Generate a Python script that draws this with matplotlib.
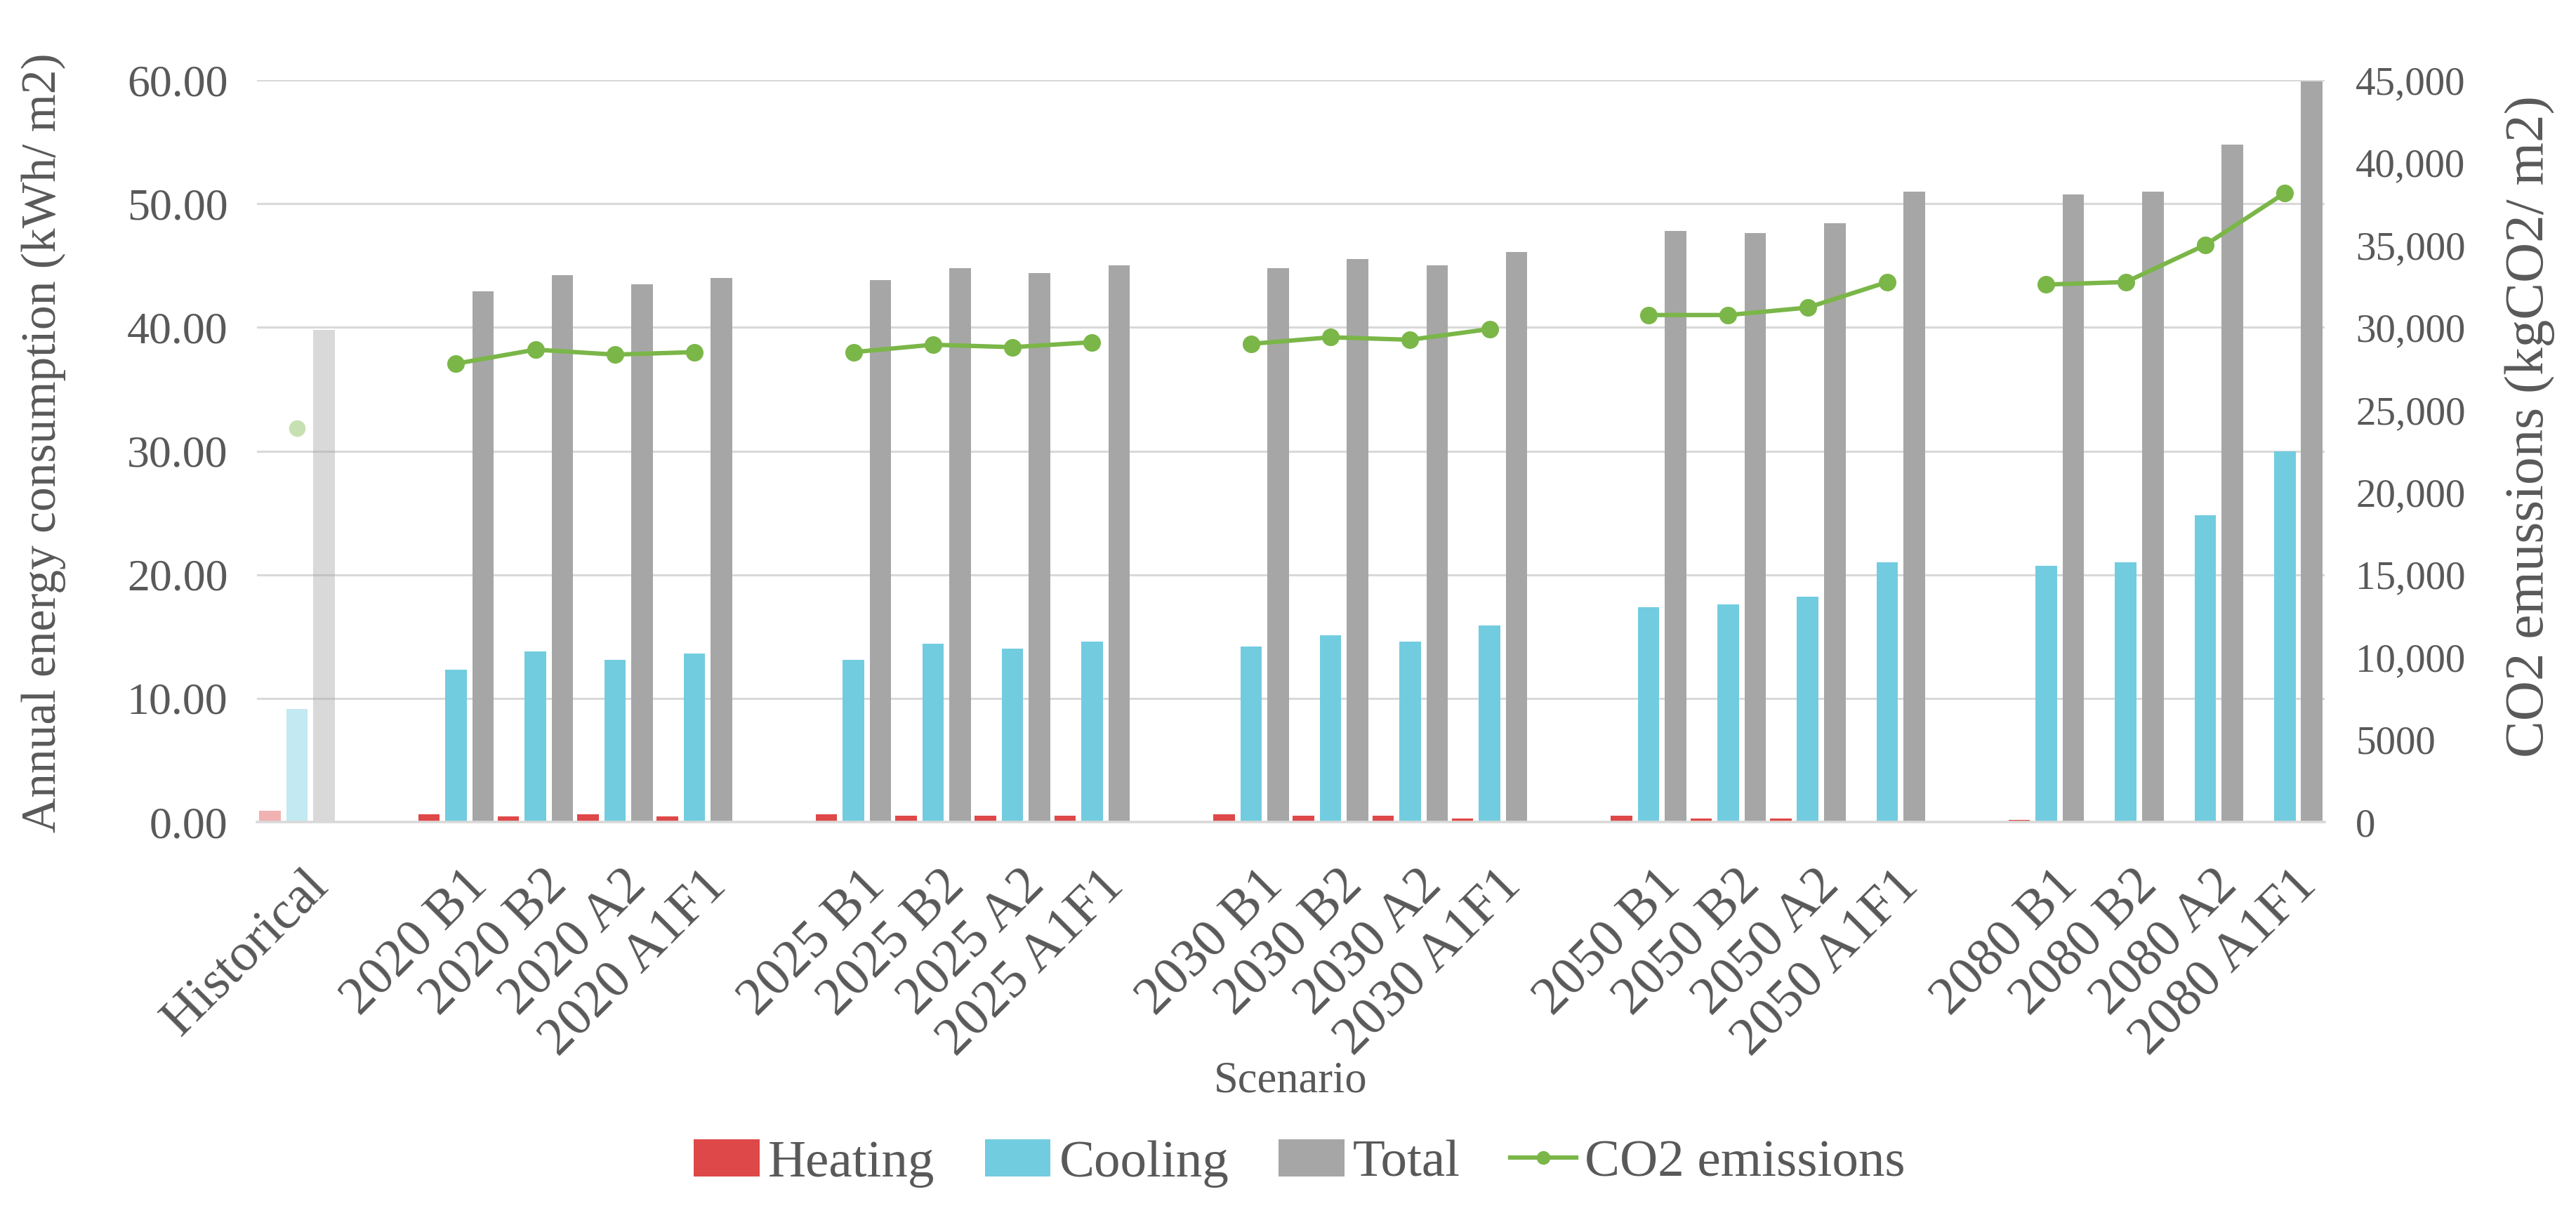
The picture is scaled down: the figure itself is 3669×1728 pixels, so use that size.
import numpy as np
import matplotlib
matplotlib.use("Agg")
import matplotlib.pyplot as plt
from matplotlib.colors import to_rgba
from matplotlib.lines import Line2D
from matplotlib.patches import Patch
from matplotlib.transforms import ScaledTranslation

nan = np.nan
categories = ["Historical", "",
              "2020 B1", "2020 B2", "2020 A2", "2020 A1F1", "",
              "2025 B1", "2025 B2", "2025 A2", "2025 A1F1", "",
              "2030 B1", "2030 B2", "2030 A2", "2030 A1F1", "",
              "2050 B1", "2050 B2", "2050 A2", "2050 A1F1", "",
              "2080 B1", "2080 B2", "2080 A2", "2080 A1F1"]
heating = [0.93, nan, 0.65, 0.45, 0.65, 0.45, nan, 0.65, 0.49, 0.49, 0.49, nan,
           0.65, 0.49, 0.49, 0.28, nan, 0.49, 0.28, 0.28, 0.0, nan, 0.2, 0.0, 0.0, 0.0]
cooling = [9.16, nan, 12.3, 13.8, 13.1, 13.6, nan, 13.1, 14.4, 14.0, 14.6, nan,
           14.2, 15.1, 14.6, 15.9, nan, 17.4, 17.6, 18.2, 21.0, nan, 20.75, 21.0, 24.8, 30.0]
total = [39.8, nan, 42.9, 44.2, 43.5, 44.0, nan, 43.8, 44.8, 44.4, 45.0, nan,
         44.8, 45.5, 45.0, 46.1, nan, 47.8, 47.6, 48.4, 51.0, nan, 50.75, 51.0, 54.8, 59.9]
co2 = [23900, nan, 27800, 28650, 28350, 28500, nan, 28500, 28950, 28800, 29100, nan,
       29000, 29400, 29250, 29900, nan, 30750, 30750, 31200, 32750, nan, 32600, 32750, 35000, 38150]
left_ticks = [0, 10, 20, 30, 40, 50, 60]
left_ticklabels = ["0.00", "10.00", "20.00", "30.00", "40.00", "50.00", "60.00"]
right_ticks = [0, 5000, 10000, 15000, 20000, 25000, 30000, 35000, 40000, 45000]
right_ticklabels = ["0", "5000", "10,000", "15,000", "20,000", "25,000", "30,000",
                    "35,000", "40,000", "45,000"]

C_HEAT = "#DF4848"
C_COOL = "#72CCE0"
C_TOT = "#A6A6A6"
C_CO2 = "#7AB648"
C_TEXT = "#595959"
C_GRID = "#D9D9D9"
FADE = 0.42

plt.rcParams['font.family'] = ['Liberation Serif', 'DejaVu Serif']

fig = plt.figure(figsize=(36.69, 17.28), dpi=100)
ax = fig.add_axes([0.0998, 0.3223, 0.9024 - 0.0998, 0.934 - 0.3223])

n = len(categories)
x = np.arange(n)
w = 0.27
off = 0.34

def colors(c):
    return [to_rgba(c, FADE if cat == "Historical" else 1.0) for cat in categories]

ax.bar(x - off, heating, w, color=colors(C_HEAT), zorder=2)
ax.bar(x, cooling, w, color=colors(C_COOL), zorder=2)
ax.bar(x + off, total, w, color=colors(C_TOT), zorder=2)

ax.set_xlim(-0.5, n - 0.5)
ax.set_ylim(0, 60)
ax.set_yticks(left_ticks)
ax.set_yticklabels(left_ticklabels)
ax.yaxis.grid(True, color=C_GRID, linewidth=2.2, zorder=0)
ax.set_axisbelow(True)
for s in ["left", "right", "top"]:
    ax.spines[s].set_visible(False)
ax.spines["bottom"].set_color(C_GRID)
ax.spines["bottom"].set_linewidth(2.6)
ax.tick_params(axis="y", length=0, colors=C_TEXT, labelsize=46, pad=30)
ax.set_xticks(x)
ax.set_xticklabels(categories, rotation=45, ha="right", rotation_mode="anchor")
ax.tick_params(axis="x", length=0, colors=C_TEXT, labelsize=55, pad=40)
shift = ScaledTranslation(0.10, 0, fig.dpi_scale_trans)
for lab in ax.get_xticklabels():
    lab.set_transform(lab.get_transform() + shift)

ax.set_ylabel("Annual energy consumption (kWh/ m2)", fontsize=50, color=C_TEXT)
ax.yaxis.set_label_coords(-0.0924, 0.511)
ax.set_xlabel("Scenario", fontsize=45, color=C_TEXT)
ax.xaxis.set_label_coords(0.5, -0.322)

ax2 = ax.twinx()
ax2.set_ylim(0, 45000)
ax2.set_yticks(right_ticks)
ax2.set_yticklabels(right_ticklabels)
for s in ["left", "right", "top", "bottom"]:
    ax2.spines[s].set_visible(False)
ax2.tick_params(axis="y", length=0, colors=C_TEXT, labelsize=41, pad=32)
ax2.set_ylabel("CO2 emussions (kgCO2/ m2)", fontsize=57, color=C_TEXT)
ax2.yaxis.set_label_coords(1.0873, 0.533)

co2_arr = np.array(co2, dtype=float)
hist_mask = np.array([cat == "Historical" for cat in categories])
main = np.where(hist_mask, nan, co2_arr)
hist = np.where(hist_mask, co2_arr, nan)
ax2.plot(x, main, color=C_CO2, linewidth=4.5, marker="o", markersize=17, zorder=3)
ax2.plot(x, hist, color=to_rgba(C_CO2, FADE), linewidth=0, marker="o", markersize=17,
         markeredgewidth=0, zorder=3)

handles = [Patch(facecolor=C_HEAT, label="Heating"),
           Patch(facecolor=C_COOL, label="Cooling"),
           Patch(facecolor=C_TOT, label="Total"),
           Line2D([0], [0], color=C_CO2, linewidth=4.5, marker="o", markersize=13,
                  label="CO2 emissions")]
fig.legend(handles=handles, loc="center", bbox_to_anchor=(0.5045, 0.041), ncol=4,
           frameon=False, fontsize=54, labelcolor=C_TEXT, handlelength=1.25,
           handleheight=0.72, handletextpad=0.16, columnspacing=0.95,
           borderpad=0, borderaxespad=0)

fig.savefig("out.png", dpi=100)
